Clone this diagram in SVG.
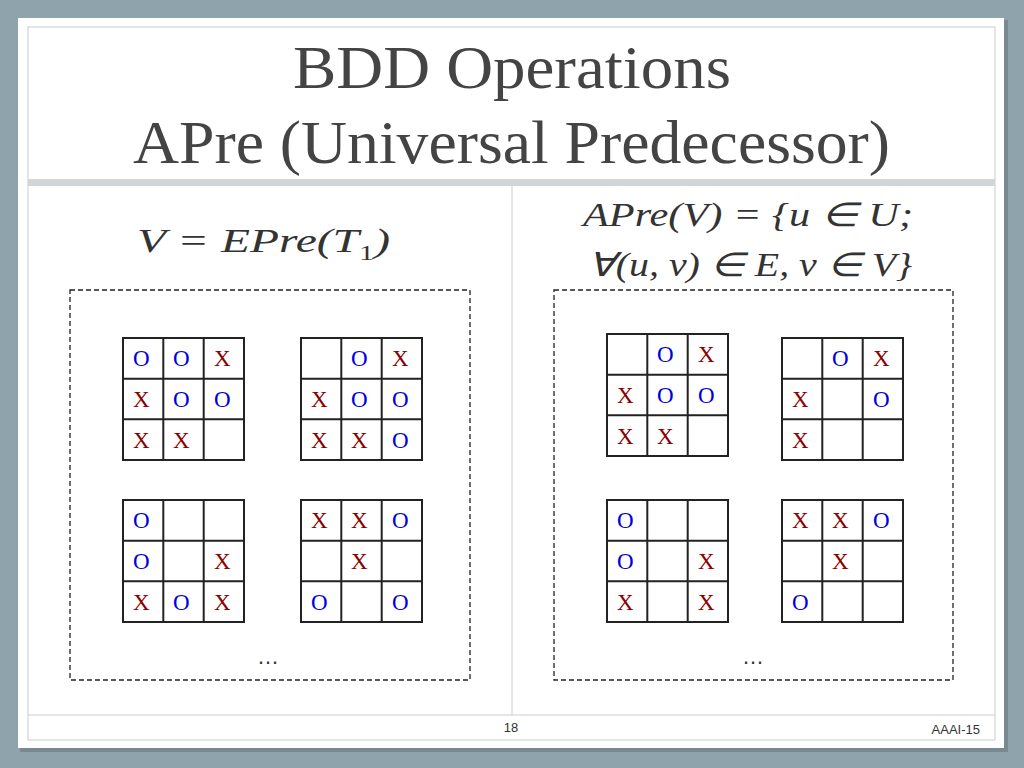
<svg xmlns="http://www.w3.org/2000/svg" width="1024" height="768" viewBox="0 0 1024 768">
<style>
.t{font-family:"Liberation Serif",serif;font-size:23px}
.x{fill:#8b0000}.o{fill:#0000dd}
.g{fill:none;stroke:#222;stroke-width:2}
.m{font-family:"Liberation Serif",serif;font-style:italic;font-size:33px;fill:#333}
</style>
<rect width="1024" height="768" fill="#8ea3ab"/>
<rect x="20" y="20" width="988" height="732" fill="#5f7278" opacity="0.5"/>
<rect x="18" y="18" width="986" height="730" fill="#fff"/>
<rect x="28" y="27" width="967" height="713" fill="none" stroke="#ccc"/>
<rect x="28" y="179" width="967" height="7" fill="#d2d5d7"/>
<line x1="512" y1="186" x2="512" y2="715" stroke="#ccc"/>
<line x1="28" y1="715" x2="995" y2="715" stroke="#ccc"/>
<g font-family="Liberation Serif,serif" font-size="62" fill="#444">
<text x="293" y="88" textLength="438" lengthAdjust="spacingAndGlyphs">BDD Operations</text>
<text x="133" y="163" textLength="757" lengthAdjust="spacingAndGlyphs">APre (Universal Predecessor)</text>
</g>
<text class="m" x="137" y="252" textLength="253" lengthAdjust="spacingAndGlyphs">V  =  EPre(T<tspan font-size="21" dy="8" font-style="normal">1</tspan><tspan dy="-8">)</tspan></text>
<text class="m" x="583" y="226" textLength="330" lengthAdjust="spacingAndGlyphs">APre(V) = {u ∈ U;</text>
<text class="m" x="588" y="276" textLength="324" lengthAdjust="spacingAndGlyphs">∀(u, v) ∈ E, v ∈ V}</text>
<g fill="none" stroke="#222" stroke-width="1.3" stroke-dasharray="5,3">
<rect x="70" y="290" width="400" height="390"/>
<rect x="554" y="290" width="399" height="390"/>
</g>
<g font-family="Liberation Sans,sans-serif" font-size="22" fill="#333" text-anchor="middle">
<text x="268" y="664">…</text><text x="753" y="664">…</text>
</g>
<g font-family="Liberation Sans,sans-serif" font-size="13" fill="#333">
<text x="511" y="732" text-anchor="middle">18</text>
<text x="980" y="734" text-anchor="end">AAAI-15</text>
</g>
<defs>
<g id="grid"><rect class="g" x="0" y="0" width="121" height="122"/><path class="g" d="M40.3 0V122M80.7 0V122M0 40.7H121M0 81.3H121"/></g>
</defs>
<g class="t">
<g id="g1" transform="translate(123,338)"><use href="#grid"/>
<text x="10" y="28" class="o">O</text><text x="50" y="28" class="o">O</text><text x="91" y="28" class="x">X</text>
<text x="10" y="69" class="x">X</text><text x="50" y="69" class="o">O</text><text x="91" y="69" class="o">O</text>
<text x="10" y="110" class="x">X</text><text x="50" y="110" class="x">X</text></g>
<g id="g2" transform="translate(301,338)"><use href="#grid"/>
<text x="50" y="28" class="o">O</text><text x="91" y="28" class="x">X</text>
<text x="10" y="69" class="x">X</text><text x="50" y="69" class="o">O</text><text x="91" y="69" class="o">O</text>
<text x="10" y="110" class="x">X</text><text x="50" y="110" class="x">X</text><text x="91" y="110" class="o">O</text></g>
<g id="g3" transform="translate(123,500)"><use href="#grid"/>
<text x="10" y="28" class="o">O</text>
<text x="10" y="69" class="o">O</text><text x="91" y="69" class="x">X</text>
<text x="10" y="110" class="x">X</text><text x="50" y="110" class="o">O</text><text x="91" y="110" class="x">X</text></g>
<g id="g4" transform="translate(301,500)"><use href="#grid"/>
<text x="10" y="28" class="x">X</text><text x="50" y="28" class="x">X</text><text x="91" y="28" class="o">O</text>
<text x="50" y="69" class="x">X</text>
<text x="10" y="110" class="o">O</text><text x="91" y="110" class="o">O</text></g>
<g id="g5" transform="translate(607,334)"><use href="#grid"/>
<text x="50" y="28" class="o">O</text><text x="91" y="28" class="x">X</text>
<text x="10" y="69" class="x">X</text><text x="50" y="69" class="o">O</text><text x="91" y="69" class="o">O</text>
<text x="10" y="110" class="x">X</text><text x="50" y="110" class="x">X</text></g>
<g id="g6" transform="translate(782,338)"><use href="#grid"/>
<text x="50" y="28" class="o">O</text><text x="91" y="28" class="x">X</text>
<text x="10" y="69" class="x">X</text><text x="91" y="69" class="o">O</text>
<text x="10" y="110" class="x">X</text></g>
<g id="g7" transform="translate(607,500)"><use href="#grid"/>
<text x="10" y="28" class="o">O</text>
<text x="10" y="69" class="o">O</text><text x="91" y="69" class="x">X</text>
<text x="10" y="110" class="x">X</text><text x="91" y="110" class="x">X</text></g>
<g id="g8" transform="translate(782,500)"><use href="#grid"/>
<text x="10" y="28" class="x">X</text><text x="50" y="28" class="x">X</text><text x="91" y="28" class="o">O</text>
<text x="50" y="69" class="x">X</text>
<text x="10" y="110" class="o">O</text></g>
</g>
</svg>
